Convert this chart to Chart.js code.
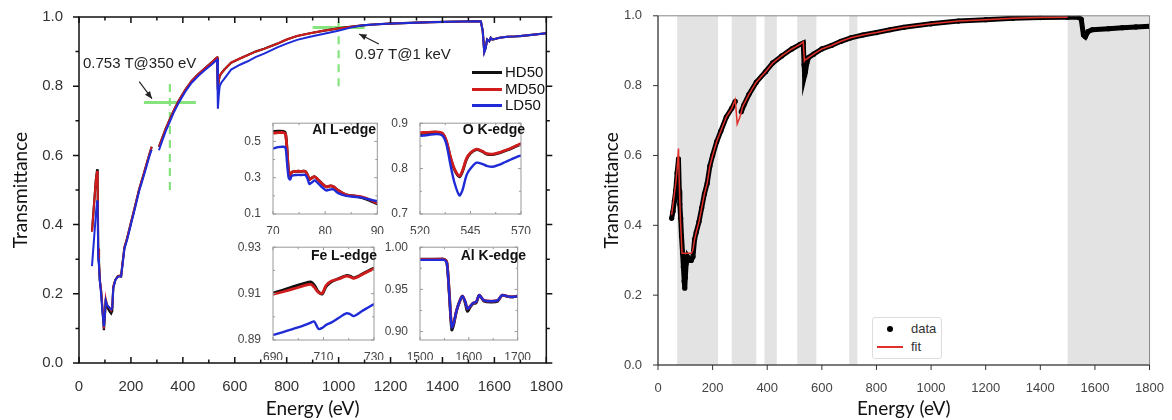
<!DOCTYPE html>
<html>
<head>
<meta charset="utf-8">
<script src="https://cdn.jsdelivr.net/npm/chart.js@4.4.1/dist/chart.umd.min.js"></script>
<style>
body { margin: 0; background: #fff; }
#page { position: relative; width: 1172px; height: 420px; overflow: hidden; font-family: 'Liberation Sans', Arial, sans-serif; }
canvas { position: absolute; }
.note { position: absolute; font-size: 15px; color: #222; white-space: nowrap; }
.tag { position: absolute; font-size: 14px; font-weight: bold; color: #111; white-space: nowrap; text-align: right; }
.key { position: absolute; left: 472px; top: 64px; font-size: 15px; color: #111; }
.key div { position: relative; height: 16.5px; line-height: 16.5px; padding-left: 33px; }
.key span { position: absolute; left: 0; top: 7px; width: 30px; height: 3px; }
.fitkey { position: absolute; left: 872px; top: 317px; width: 68px; height: 40px; border: 1px solid #ddd; border-radius: 3px; background: #fff; font-size: 13px; color: #333; }
.fitkey div { position: absolute; left: 38px; }
</style>
</head>
<body>
<div id="page">
  <canvas id="main" width="570" height="420" style="left:0;top:0"></canvas>
  <canvas id="alL" width="150" height="122" style="left:236px;top:112px"></canvas>
  <canvas id="oK" width="150" height="122" style="left:383px;top:112px"></canvas>
  <canvas id="feL" width="150" height="124" style="left:236px;top:236px"></canvas>
  <canvas id="alK" width="150" height="124" style="left:383px;top:236px"></canvas>
  <canvas id="fit" width="582" height="420" style="left:590px;top:0"></canvas>

  <div class="note" style="left:83px;top:54px">0.753 T@350 eV</div>
  <div class="note" style="left:355px;top:45px">0.97 T@1 keV</div>
  <div class="key">
    <div><span style="background:#111"></span>HD50</div>
    <div><span style="background:#d01c1c"></span>MD50</div>
    <div><span style="background:#1f2bd6"></span>LD50</div>
  </div>
  <div class="tag" style="left:300px;top:121px;width:76px">Al L-edge</div>
  <div class="tag" style="left:450px;top:121px;width:75px">O K-edge</div>
  <div class="tag" style="left:300px;top:247px;width:77px">Fe L-edge</div>
  <div class="tag" style="left:450px;top:247px;width:76px">Al K-edge</div>
  <div class="fitkey">
    <span style="position:absolute;left:14px;top:8px;width:6px;height:6px;border-radius:3px;background:#000"></span>
    <div style="top:3px">data</div>
    <span style="position:absolute;left:4px;top:28px;width:26px;height:1.5px;background:#e0302a"></span>
    <div style="top:21px">fit</div>
  </div>
</div>

<script>
// ---- left panel: transmittance of the three films ----
const energy = [50, 55, 60, 65, 70, 72, 74, 77, 80, 85, 90, 96, 100, 103, 107, 111, 117, 124, 128, 132, 140, 149, 155, 162, 168, 175, 185, 200, 215, 232, 245, 260, 270, 280, 294, 308, 318, 333, 350, 367, 384, 410, 434, 460, 485, 510, 529, 532, 535, 538, 542, 548, 560, 586, 620, 650, 680, 713, 764, 800, 840, 890, 940, 998, 1050, 1093, 1150, 1200, 1269, 1350, 1420, 1480, 1535, 1548, 1555, 1561, 1566, 1572, 1580, 1586, 1592, 1600, 1620, 1649, 1680, 1700, 1750, 1800];
const hd50 = [0.38, 0.43, 0.48, 0.53, 0.56, 0.50, 0.33, 0.29, 0.24, 0.21, 0.16, 0.095, 0.14, 0.185, 0.165, 0.158, 0.15, 0.143, 0.15, 0.22, 0.24, 0.25, 0.252, 0.25, 0.29, 0.334, 0.36, 0.405, 0.45, 0.503, 0.535, 0.574, 0.60, 0.625, null, 0.625, 0.645, 0.675, 0.705, 0.733, 0.758, 0.79, 0.815, 0.835, 0.852, 0.868, 0.882, 0.883, 0.79, 0.815, 0.83, 0.837, 0.848, 0.868, 0.88, 0.89, 0.90, 0.908, 0.923, 0.935, 0.945, 0.953, 0.96, 0.967, 0.972, 0.976, 0.979, 0.981, 0.983, 0.985, 0.986, 0.987, 0.988, 0.987, 0.96, 0.90, 0.91, 0.935, 0.93, 0.94, 0.935, 0.936, 0.94, 0.943, 0.944, 0.945, 0.949, 0.953];
const md50 = [0.38, 0.43, 0.48, 0.53, 0.555, 0.50, 0.33, 0.29, 0.24, 0.21, 0.16, 0.10, 0.14, 0.185, 0.17, 0.165, 0.16, 0.152, 0.16, 0.22, 0.24, 0.25, 0.252, 0.25, 0.29, 0.334, 0.36, 0.405, 0.45, 0.503, 0.535, 0.574, 0.60, 0.625, null, 0.625, 0.645, 0.675, 0.705, 0.733, 0.758, 0.79, 0.815, 0.835, 0.852, 0.868, 0.882, 0.883, 0.79, 0.815, 0.83, 0.837, 0.848, 0.868, 0.88, 0.89, 0.90, 0.908, 0.923, 0.935, 0.945, 0.953, 0.96, 0.967, 0.972, 0.976, 0.979, 0.981, 0.983, 0.985, 0.986, 0.987, 0.988, 0.987, 0.96, 0.90, 0.91, 0.935, 0.93, 0.94, 0.935, 0.936, 0.94, 0.943, 0.944, 0.945, 0.949, 0.953];
const ld50 = [0.28, 0.33, 0.38, 0.43, 0.47, 0.44, 0.30, 0.28, 0.24, 0.20, 0.15, 0.105, 0.14, 0.18, 0.17, 0.165, 0.16, 0.155, 0.16, 0.215, 0.24, 0.248, 0.25, 0.25, 0.285, 0.33, 0.355, 0.40, 0.445, 0.498, 0.53, 0.568, 0.595, 0.617, null, 0.615, 0.637, 0.668, 0.698, 0.727, 0.752, 0.785, 0.81, 0.83, 0.847, 0.862, 0.875, 0.877, 0.735, 0.77, 0.80, 0.81, 0.822, 0.848, 0.862, 0.872, 0.884, 0.894, 0.912, 0.923, 0.934, 0.943, 0.951, 0.96, 0.97, 0.976, 0.979, 0.981, 0.983, 0.985, 0.986, 0.987, 0.988, 0.987, 0.96, 0.898, 0.91, 0.935, 0.93, 0.94, 0.935, 0.936, 0.94, 0.943, 0.944, 0.945, 0.949, 0.953];
const mainXTicks = [0, 200, 400, 600, 800, 1000, 1200, 1400, 1600, 1800];
const mainYTicks = [0, 0.2, 0.4, 0.6, 0.8, 1.0];

// green guide lines and arrows (data units)
const guideH = [[250, 450, 0.753], [900, 1100, 0.97]];
const guideV = [[350, 0.50, 0.82], [1000, 0.80, 0.985]];
const arrowTail = [[232, 0.813], [1155, 0.922]];
const arrowTip = [[281, 0.764], [1079, 0.951]];

// ---- insets ----
const alLE = [70, 71, 72, 72.4, 72.7, 73, 73.3, 73.6, 74.5, 75.5, 76.2, 76.6, 77, 77.5, 78, 78.6, 79.3, 80.2, 81, 81.6, 82.5, 84, 85.5, 87, 88.5, 90];
const alLHD = [0.555, 0.556, 0.555, 0.545, 0.45, 0.33, 0.31, 0.33, 0.335, 0.335, 0.335, 0.315, 0.29, 0.3, 0.305, 0.29, 0.27, 0.25, 0.255, 0.25, 0.23, 0.205, 0.2, 0.19, 0.175, 0.155];
const alLMD = [0.545, 0.548, 0.548, 0.54, 0.45, 0.33, 0.31, 0.33, 0.335, 0.335, 0.335, 0.315, 0.29, 0.3, 0.305, 0.29, 0.27, 0.25, 0.255, 0.25, 0.23, 0.205, 0.2, 0.195, 0.18, 0.16];
const alLLD = [0.46, 0.468, 0.47, 0.465, 0.38, 0.3, 0.29, 0.31, 0.315, 0.315, 0.315, 0.295, 0.265, 0.275, 0.285, 0.27, 0.25, 0.23, 0.235, 0.235, 0.215, 0.2, 0.195, 0.19, 0.18, 0.17];

const oKE = [520, 524, 528, 531, 533, 535, 537, 539.5, 541, 543, 545, 548, 551, 553, 556, 559, 562, 565, 568, 570];
const oKHD = [0.877, 0.879, 0.88, 0.877, 0.86, 0.825, 0.798, 0.782, 0.793, 0.82, 0.834, 0.842, 0.837, 0.832, 0.831, 0.834, 0.839, 0.844, 0.85, 0.854];
const oKMD = [0.879, 0.88, 0.881, 0.878, 0.862, 0.827, 0.80, 0.784, 0.795, 0.822, 0.835, 0.843, 0.838, 0.833, 0.832, 0.835, 0.84, 0.845, 0.851, 0.855];
const oKLD = [0.872, 0.874, 0.876, 0.873, 0.855, 0.81, 0.77, 0.741, 0.752, 0.785, 0.80, 0.813, 0.81, 0.806, 0.804, 0.808, 0.814, 0.82, 0.826, 0.829];

const feLE = [690, 694, 698, 702, 705, 706.3, 708, 709.5, 711, 713, 716, 719, 720.5, 722, 725, 728, 730];
const feLHD = [0.9102, 0.9115, 0.913, 0.9143, 0.915, 0.9138, 0.9108, 0.9098, 0.913, 0.915, 0.9165, 0.9178, 0.9176, 0.9168, 0.9182, 0.92, 0.921];
const feLMD = [0.9097, 0.9108, 0.912, 0.9133, 0.914, 0.9128, 0.9105, 0.9102, 0.9135, 0.9153, 0.9163, 0.9175, 0.9172, 0.9166, 0.918, 0.9197, 0.9207];
const feLLD = [0.8922, 0.8934, 0.8948, 0.8962, 0.8975, 0.898, 0.8948, 0.8952, 0.8965, 0.8975, 0.8995, 0.9015, 0.9012, 0.9003, 0.9023, 0.9042, 0.9055];

const alKE = [1500, 1520, 1540, 1550, 1555, 1560, 1565, 1569, 1575, 1582, 1587, 1593, 1597, 1603, 1609, 1615, 1621, 1626, 1631, 1645, 1659, 1668, 1677, 1687, 1700];
const alKHD = [0.9858, 0.9858, 0.9859, 0.9857, 0.982, 0.945, 0.902, 0.908, 0.925, 0.937, 0.942, 0.933, 0.924, 0.929, 0.933, 0.934, 0.943, 0.94, 0.936, 0.935, 0.936, 0.943, 0.942, 0.941, 0.942];
const alKMD = [0.9856, 0.9856, 0.9857, 0.9855, 0.982, 0.945, 0.906, 0.91, 0.925, 0.937, 0.942, 0.935, 0.927, 0.93, 0.934, 0.935, 0.943, 0.94, 0.937, 0.936, 0.937, 0.943, 0.942, 0.941, 0.942];
const alKLD = [0.985, 0.985, 0.985, 0.9848, 0.981, 0.944, 0.905, 0.91, 0.925, 0.937, 0.942, 0.935, 0.927, 0.93, 0.934, 0.935, 0.943, 0.94, 0.937, 0.936, 0.937, 0.943, 0.942, 0.941, 0.942];

// ---- right panel: data and fit ----
const dataE = [50, 55, 60, 65, 70, 75, 78, 80, 83, 86, 90, 93, 96, 98, 100, 103, 108, 115, 122, 128, 134, 140, 150, 160, 170, 180, 190, 200, 215, 230, 250, 270, 283, 294, 305, 315, 333, 360, 394, 420, 453, 490, 520, 532, 535, 537, 540, 545, 551, 570, 600, 635, 670, 706, 750, 800, 850, 900, 1000, 1100, 1200, 1300, 1400, 1500, 1540, 1550, 1558, 1565, 1575, 1590, 1650, 1700, 1750, 1800];
const dataT = [0.42, 0.44, 0.47, 0.50, 0.55, 0.59, 0.50, 0.46, 0.42, 0.37, 0.32, 0.28, 0.24, 0.22, 0.25, 0.29, 0.31, 0.30, 0.30, 0.31, 0.36, 0.38, 0.41, 0.45, 0.49, 0.52, 0.57, 0.60, 0.64, 0.67, 0.71, 0.735, 0.755, null, 0.725, 0.745, 0.775, 0.81, 0.84, 0.865, 0.885, 0.905, 0.918, 0.922, 0.86, 0.83, 0.84, 0.865, 0.88, 0.89, 0.905, 0.915, 0.927, 0.937, 0.945, 0.952, 0.96, 0.967, 0.977, 0.985, 0.989, 0.993, 0.995, 0.996, 0.996, 0.99, 0.945, 0.94, 0.955, 0.96, 0.963, 0.966, 0.968, 0.97];
const fitE = [50, 55, 60, 65, 70, 75, 78, 82, 88, 100, 115, 122, 128, 134, 140, 150, 160, 170, 180, 190, 200, 215, 230, 250, 270, 283, 290, 300, 310, 333, 360, 394, 420, 453, 490, 520, 532, 536, 540, 545, 551, 570, 600, 635, 670, 706, 750, 800, 850, 900, 1000, 1100, 1200, 1300, 1400, 1500];
const fitT = [0.43, 0.46, 0.49, 0.52, 0.56, 0.62, 0.52, 0.42, 0.32, 0.32, 0.32, 0.32, 0.33, 0.36, 0.38, 0.41, 0.45, 0.49, 0.52, 0.57, 0.60, 0.64, 0.67, 0.71, 0.735, 0.76, 0.69, 0.71, 0.74, 0.775, 0.81, 0.84, 0.865, 0.885, 0.905, 0.918, 0.925, 0.87, 0.875, 0.876, 0.88, 0.89, 0.905, 0.915, 0.927, 0.937, 0.945, 0.952, 0.96, 0.967, 0.977, 0.985, 0.989, 0.993, 0.995, 0.996];
const bandStart = [70, 270, 390, 510, 700, 1500];
const bandEnd = [220, 360, 435, 580, 730, 1800];

Chart.defaults.font.family = "'Liberation Sans', Arial, sans-serif";
Chart.defaults.animation = false;

function xy(xs, ys) {
  return xs.map((x, i) => ({ x: x, y: ys[i] }));
}

function series(label, xs, ys, color, w, smooth) {
  return {
    label: label, data: xy(xs, ys), borderColor: color, backgroundColor: color,
    borderWidth: w, pointRadius: 0, tension: smooth ? 0.3 : 0, spanGaps: false
  };
}

// linear axis with fixed thickness so the plot box lands where it should
function axis(min, max, ticks, o) {
  return {
    type: 'linear', min: min, max: max,
    grid: { display: false }, border: { display: false },
    afterBuildTicks: s => { s.ticks = ticks.map(v => ({ value: v })); },
    afterFit: s => { if (s.isHorizontal()) s.height = o.size; else s.width = o.size; },
    ticks: {
      autoSkip: false, maxRotation: 0, padding: o.pad, color: o.color || '#333',
      font: { size: o.fs }, callback: v => v.toFixed(o.dec || 0)
    },
    title: o.title ? {
      display: true, text: o.title, color: '#111',
      font: { family: 'Lato', size: 19 }, padding: { top: o.tpad, bottom: 0 }
    } : { display: false }
  };
}

// box, tick marks, bands, guide lines, arrows
const frame = {
  id: 'frame',
  beforeDatasetsDraw(chart, args, o) {
    const { ctx, chartArea: a, scales: { x, y } } = chart;
    ctx.save();
    if (o.bands) {
      ctx.fillStyle = o.bandColor;
      o.bands[0].forEach((s, i) => {
        const l = x.getPixelForValue(s), r = x.getPixelForValue(o.bands[1][i]);
        ctx.fillRect(l, a.top, r - l, a.height);
      });
    }
    if (o.guides) {
      ctx.strokeStyle = '#86e37e';
      ctx.lineWidth = 3;
      o.guides.h.forEach(g => {
        ctx.beginPath();
        ctx.moveTo(x.getPixelForValue(g[0]), y.getPixelForValue(g[2]));
        ctx.lineTo(x.getPixelForValue(g[1]), y.getPixelForValue(g[2]));
        ctx.stroke();
      });
      ctx.lineWidth = 2.2;
      ctx.setLineDash([8, 6]);
      o.guides.v.forEach(g => {
        ctx.beginPath();
        ctx.moveTo(x.getPixelForValue(g[0]), y.getPixelForValue(g[1]));
        ctx.lineTo(x.getPixelForValue(g[0]), y.getPixelForValue(g[2]));
        ctx.stroke();
      });
    }
    ctx.restore();
  },
  afterDatasetsDraw(chart, args, o) {
    if (!o.box) return;
    const { ctx, chartArea: a, scales: { x, y } } = chart;
    ctx.save();
    ctx.strokeStyle = o.box.color;
    ctx.lineWidth = o.box.width;
    ctx.strokeRect(a.left, a.top, a.width, a.height);
    if (o.axisColor) {
      ctx.strokeStyle = o.axisColor;
      ctx.beginPath();
      ctx.moveTo(a.left, a.top); ctx.lineTo(a.left, a.bottom); ctx.lineTo(a.right, a.bottom);
      ctx.stroke();
    }
    const xs = x.ticks.map(t => t.value), ys = y.ticks.map(t => t.value);
    const mids = v => v.slice(1).map((t, i) => (t + v[i]) / 2);
    const sides = o.sides || {};
    ctx.beginPath();
    const put = (side, p, len) => {
      const d = sides[side];
      if (!d) return;
      const s = d === 'in' ? 1 : -1;
      if (side === 'bottom') { ctx.moveTo(p, a.bottom); ctx.lineTo(p, a.bottom - s * len); }
      if (side === 'top') { ctx.moveTo(p, a.top); ctx.lineTo(p, a.top + s * len); }
      if (side === 'left') { ctx.moveTo(a.left, p); ctx.lineTo(a.left + s * len, p); }
      if (side === 'right') { ctx.moveTo(a.right, p); ctx.lineTo(a.right - s * len, p); }
    };
    xs.forEach(v => { const p = x.getPixelForValue(v); put('bottom', p, o.major); put('top', p, o.major); });
    ys.forEach(v => { const p = y.getPixelForValue(v); put('left', p, o.major); put('right', p, o.major); });
    if (o.minor) {
      mids(xs).forEach(v => { const p = x.getPixelForValue(v); put('bottom', p, o.minor); put('top', p, o.minor); });
      mids(ys).forEach(v => { const p = y.getPixelForValue(v); put('left', p, o.minor); put('right', p, o.minor); });
    }
    ctx.stroke();
    if (o.arrows) {
      ctx.strokeStyle = '#222';
      ctx.fillStyle = '#222';
      ctx.lineWidth = 1.2;
      o.arrows[0].forEach((t, i) => {
        const h = o.arrows[1][i];
        const x0 = x.getPixelForValue(t[0]), y0 = y.getPixelForValue(t[1]);
        const x1 = x.getPixelForValue(h[0]), y1 = y.getPixelForValue(h[1]);
        const ang = Math.atan2(y1 - y0, x1 - x0);
        ctx.beginPath(); ctx.moveTo(x0, y0); ctx.lineTo(x1, y1); ctx.stroke();
        ctx.beginPath();
        ctx.moveTo(x1, y1);
        ctx.lineTo(x1 - 8 * Math.cos(ang - 0.4), y1 - 8 * Math.sin(ang - 0.4));
        ctx.lineTo(x1 - 8 * Math.cos(ang + 0.4), y1 - 8 * Math.sin(ang + 0.4));
        ctx.closePath(); ctx.fill();
      });
    }
    ctx.restore();
  }
};
Chart.register(frame);

function baseOptions(pad, scales, frameOpts) {
  return {
    responsive: false, devicePixelRatio: 1, animation: false,
    layout: { padding: pad },
    plugins: { legend: { display: false }, tooltip: { enabled: false }, frame: frameOpts },
    scales: scales
  };
}

// left main chart
new Chart(document.getElementById('main'), {
  type: 'line',
  data: {
    datasets: [
      series('LD50', energy, ld50, '#1f2bd6', 2),
      series('MD50', energy, md50, '#d01c1c', 2),
      series('HD50', energy, hd50, '#111111', 2.2)
    ]
  },
  options: baseOptions({ left: 0, top: 15, right: 17, bottom: 0 }, {
    x: axis(0, 1800, mainXTicks, { size: 57, pad: 7, fs: 15, title: 'Energy (eV)', tpad: 8 }),
    y: axis(0, 1, mainYTicks, { size: 79, pad: 8, fs: 15, dec: 1, title: 'Transmittance', tpad: 9 })
  }, {
    box: { color: '#111', width: 1.5 }, major: 6, minor: 3.5,
    sides: { left: 'out', right: 'out', top: 'in', bottom: 'in' },
    guides: { h: guideH, v: guideV }, arrows: [arrowTail, arrowTip]
  })
});

// insets
function inset(id, xs, hd, md, ld, xr, yr, xt, yt, dec, pad) {
  new Chart(document.getElementById(id), {
    type: 'line',
    data: {
      datasets: [
        series('LD50', xs, ld, '#1f2bd6', 2.4, true),
        series('MD50', xs, md, '#d01c1c', 2.8, true),
        series('HD50', xs, hd, '#111111', 2.8, true)
      ]
    },
    options: baseOptions(pad, {
      x: axis(xr[0], xr[1], xt, { size: pad.xh, pad: 2, fs: 12, color: '#444' }),
      y: axis(yr[0], yr[1], yt, { size: 37, pad: 4, fs: 12, dec: dec, color: '#444' })
    }, {
      box: { color: '#999', width: 1 }, major: 3, minor: 2,
      sides: { left: 'in', right: 'in', top: 'in', bottom: 'in' }
    })
  });
}
inset('alL', alLE, alLHD, alLMD, alLLD, [70, 90], [0.1, 0.6], [70, 80, 90], [0.1, 0.3, 0.5], 1, { left: 0, top: 9, right: 8, bottom: 0, xh: 20 });
inset('oK', oKE, oKHD, oKMD, oKLD, [520, 570], [0.7, 0.9], [520, 545, 570], [0.7, 0.8, 0.9], 1, { left: 0, top: 8, right: 6, bottom: 0, xh: 20 });
inset('feL', feLE, feLHD, feLMD, feLLD, [690, 730], [0.89, 0.93], [690, 710, 730], [0.89, 0.91, 0.93], 2, { left: 0, top: 9, right: 7, bottom: 0, xh: 20 });
inset('alK', alKE, alKHD, alKMD, alKLD, [1500, 1700], [0.89, 1.0], [1500, 1600, 1700], [0.90, 0.95, 1.00], 2, { left: 0, top: 10, right: 6, bottom: 0, xh: 20 });

// right chart: data + fit
const dataSet = series('data', dataE, dataT, '#000000', 5);
dataSet.pointRadius = 2.6;
dataSet.pointBorderWidth = 0;
new Chart(document.getElementById('fit'), {
  type: 'line',
  data: {
    datasets: [
      series('fit', fitE, fitT, '#e0302a', 1.5),
      dataSet
    ]
  },
  options: baseOptions({ left: 0, top: 13, right: 17, bottom: 0 }, {
    x: axis(0, 1800, mainXTicks, { size: 55, pad: 8, fs: 13, color: '#444', title: 'Energy (eV)', tpad: 5 }),
    y: axis(0, 1, mainYTicks, { size: 68, pad: 8, fs: 13, dec: 1, color: '#444', title: 'Transmittance', tpad: 10 })
  }, {
    box: { color: '#888', width: 1 }, axisColor: '#333', major: 5,
    sides: { left: 'out', bottom: 'out' },
    bands: [bandStart, bandEnd], bandColor: '#e3e3e3'
  })
});
</script>
</body>
</html>
